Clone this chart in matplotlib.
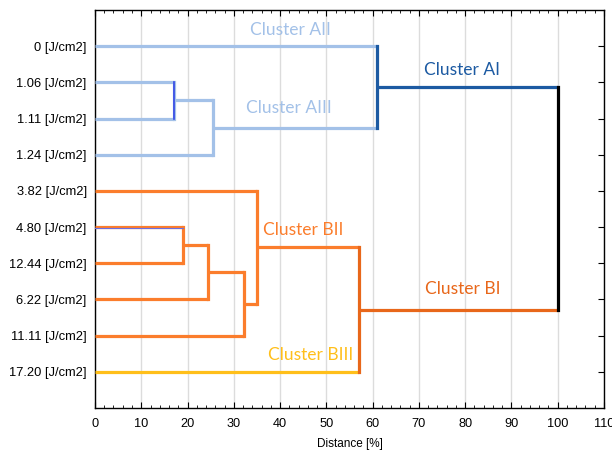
import matplotlib
matplotlib.use("Agg")
import matplotlib.pyplot as plt
from matplotlib.ticker import MultipleLocator
import numpy as np

# leaves, top to bottom
leaf_labels = ["0 [J/cm2]", "1.06 [J/cm2]", "1.11 [J/cm2]", "1.24 [J/cm2]", "3.82 [J/cm2]",
               "4.80 [J/cm2]", "12.44 [J/cm2]", "6.22 [J/cm2]", "11.11 [J/cm2]", "17.20 [J/cm2]"]

# merges: new node ids start at len(leaf_labels)
merge_left = [1, 10, 0, 5, 13, 14, 4, 16, 12]
merge_right = [2, 3, 11, 6, 7, 8, 15, 9, 17]
merge_dist = [17.0, 25.5, 61.0, 19.0, 24.5, 32.3, 35.0, 57.0, 100.0]

LIGHT_BLUE = "#a3c1e8"
DARK_BLUE = "#1c5aa2"
ORANGE = "#fb7d2c"
DARK_ORANGE = "#e8671a"
YELLOW = "#ffbf1a"

# colour of the horizontal branch rising from each node (leaves then merges)
branch_colors = [LIGHT_BLUE] * 4 + [ORANGE] * 5 + [YELLOW] + \
                [LIGHT_BLUE, LIGHT_BLUE, DARK_BLUE, ORANGE, ORANGE, ORANGE, ORANGE, DARK_ORANGE, None]
# colour of the vertical joining the two children of each merge
vline_colors = [LIGHT_BLUE, LIGHT_BLUE, DARK_BLUE, ORANGE, ORANGE, ORANGE, ORANGE, DARK_ORANGE, "black"]

cluster_names = ["Cluster AII", "Cluster AIII", "Cluster AI", "Cluster BII", "Cluster BI", "Cluster BIII"]
cluster_x = [42.2, 41.8, 79.4, 45.0, 79.4, 46.5]
cluster_y = [0.55, 2.7, 1.66, 6.08, 7.72, 9.53]
cluster_colors = [LIGHT_BLUE, LIGHT_BLUE, DARK_BLUE, ORANGE, DARK_ORANGE, YELLOW]

n_leaves = len(leaf_labels)
ypos = list(np.arange(1, n_leaves + 1, dtype=float))
xpos = [0.0] * n_leaves
for l, r, d in zip(merge_left, merge_right, merge_dist):
    ypos.append((ypos[l] + ypos[r]) / 2)
    xpos.append(d)

fig = plt.figure(figsize=(6.12, 4.54), dpi=100)
ax = fig.add_axes([0.1552, 0.1013, 0.8317, 0.8767])

lw = 2.3
for i, (l, r, d) in enumerate(zip(merge_left, merge_right, merge_dist)):
    for c in (l, r):
        ax.plot([xpos[c], d], [ypos[c], ypos[c]], color=branch_colors[c], lw=lw,
                solid_capstyle="butt", zorder=3)
    ax.plot([d, d], [ypos[l], ypos[r]], color=vline_colors[i], lw=lw,
            solid_capstyle="projecting", zorder=4)

# thin blue traces left on two of the branches
ax.plot([merge_dist[0]] * 2, [ypos[1], ypos[2]], color="#3346e6", lw=1.2, zorder=5)
ax.plot([0, merge_dist[3]], [ypos[5] + 0.03] * 2, color="#6d6ee0", lw=0.8, zorder=5)

for name, x, y, c in zip(cluster_names, cluster_x, cluster_y, cluster_colors):
    ax.text(x, y, name, color=c, fontsize=12.5, family=["Lato", "DejaVu Sans"],
            ha="center", va="center", zorder=6)

ax.set_xlim(0, 110)
ax.set_ylim(n_leaves + 1, 0)
ax.xaxis.set_major_locator(MultipleLocator(10))
ax.xaxis.set_minor_locator(MultipleLocator(2))
ax.set_yticks(ypos[:n_leaves])
ax.set_yticklabels(leaf_labels)
ax.grid(axis="x", color="#dcdcdc", lw=1.0, zorder=0)
ax.set_axisbelow(True)

ax.tick_params(axis="x", which="both", direction="in", top=True, bottom=True,
               labelsize=9.2, pad=7)
ax.tick_params(axis="x", which="major", length=4, width=0.8)
ax.tick_params(axis="x", which="minor", length=2, width=0.6)
ax.tick_params(axis="y", which="both", direction="in", left=False, right=True,
               length=4, width=0.8, labelsize=9.3, pad=6)
for lab in ax.get_xticklabels() + ax.get_yticklabels():
    lab.set_family("Liberation Sans")
for s in ax.spines.values():
    s.set_linewidth(1.0)

ax.set_xlabel("Distance [%]", fontsize=8.5, family="Liberation Sans", labelpad=6)

fig.savefig("out.png", dpi=100)
